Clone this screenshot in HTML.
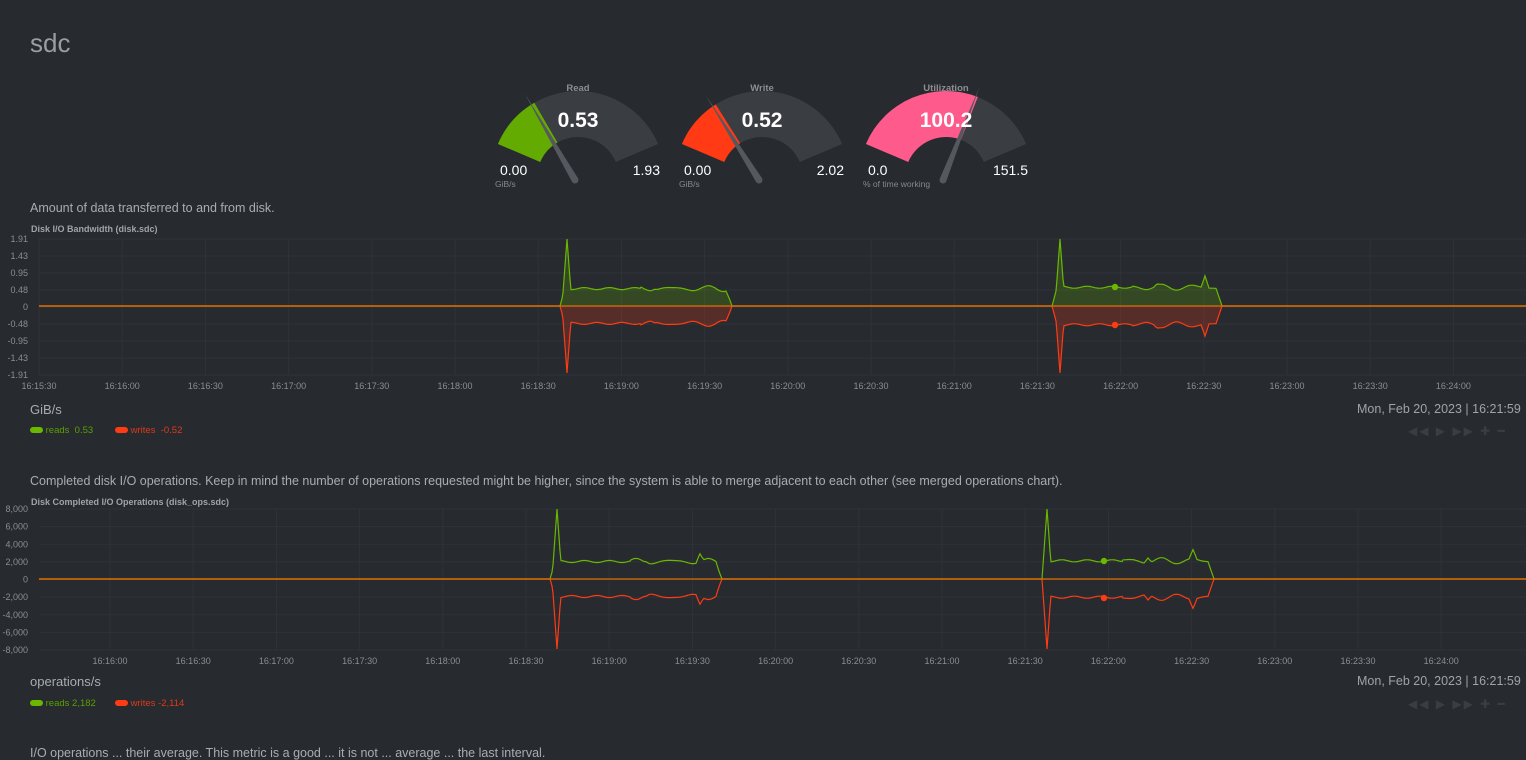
<!DOCTYPE html><html><head><meta charset="utf-8"><style>
body{margin:0;width:1526px;height:751px;background:#272a2f;font-family:"Liberation Sans",sans-serif;overflow:hidden;position:relative;color:#bbb}
.a{position:absolute;white-space:nowrap}
</style></head><body>
<div class="a" style="left:30px;top:28px;font-size:26px;color:#9a9ea3">sdc</div>
<svg id="g" class="a" style="left:0;top:0" width="1526" height="200"></svg>
<div class="a" style="left:30px;top:201px;font-size:12.5px;color:#a9adb2">Amount of data transferred to and from disk.</div>
<div class="a" style="left:31px;top:224px;font-size:9px;font-weight:bold;color:#a0a4a8">Disk I/O Bandwidth (disk.sdc)</div>
<div class="a" style="left:30px;top:402px;font-size:13px;color:#a9adb2">GiB/s</div>
<div class="a" style="left:1357px;top:402px;font-size:12.5px;color:#a0a4a8">Mon, Feb 20, 2023 | 16:21:59</div>
<div class="a" style="left:30px;top:425px;font-size:9.5px;color:#5aa000"><span style="display:inline-block;width:13px;height:6px;border-radius:3px;background:#6ab800;vertical-align:middle"></span> reads&nbsp; 0.53</div>
<div class="a" style="left:115px;top:425px;font-size:9.5px;color:#e03a1a"><span style="display:inline-block;width:13px;height:6px;border-radius:3px;background:#ff3b14;vertical-align:middle"></span> writes&nbsp; -0.52</div>
<div class="a" style="left:1408px;top:424px;font-size:12px;color:#3a3e44;letter-spacing:2px">◀◀ ▶ ▶▶ ✚ ━ &nbsp;&nbsp;&nbsp;&nbsp; ⬍</div>
<div class="a" style="left:30px;top:474px;font-size:12.5px;color:#a9adb2">Completed disk I/O operations. Keep in mind the number of operations requested might be higher, since the system is able to merge adjacent to each other (see merged operations chart).</div>
<div class="a" style="left:31px;top:497px;font-size:9px;font-weight:bold;color:#a0a4a8">Disk Completed I/O Operations (disk_ops.sdc)</div>
<div class="a" style="left:30px;top:674px;font-size:13px;color:#a9adb2">operations/s</div>
<div class="a" style="left:1357px;top:674px;font-size:12.5px;color:#a0a4a8">Mon, Feb 20, 2023 | 16:21:59</div>
<div class="a" style="left:30px;top:698px;font-size:9.5px;color:#5aa000"><span style="display:inline-block;width:13px;height:6px;border-radius:3px;background:#6ab800;vertical-align:middle"></span> reads 2,182</div>
<div class="a" style="left:115px;top:698px;font-size:9.5px;color:#e03a1a"><span style="display:inline-block;width:13px;height:6px;border-radius:3px;background:#ff3b14;vertical-align:middle"></span> writes -2,114</div>
<div class="a" style="left:1408px;top:697px;font-size:12px;color:#3a3e44;letter-spacing:2px">◀◀ ▶ ▶▶ ✚ ━ &nbsp;&nbsp;&nbsp;&nbsp; ⬍</div>
<svg id="c" class="a" style="left:0;top:0" width="1526" height="751"></svg>
<script>
var NS='http://www.w3.org/2000/svg';
function el(p,t,a,txt){var e=document.createElementNS(NS,t);for(var k in a)e.setAttribute(k,a[k]);if(txt!=null)e.textContent=txt;p.appendChild(e);return e}
var g=document.getElementById('g');
function pt(cx,cy,r,d){var t=d*Math.PI/180;return [cx+r*Math.cos(t),cy-r*Math.sin(t)]}
function arc(cx,cy,R,r,a1,a2){var p1=pt(cx,cy,R,a1),p2=pt(cx,cy,R,a2),p3=pt(cx,cy,r,a2),p4=pt(cx,cy,r,a1);var lg=(a1-a2)>180?1:0;
return 'M'+p1+' A'+R+' '+R+' 0 '+lg+' 1 '+p2+' L'+p3+' A'+r+' '+r+' 0 '+lg+' 0 '+p4+'Z'}
function gauge(cx,title,val,frac,col,mn,mx,unit){var cy=178,R=87,r=41;
el(g,'path',{d:arc(cx,cy,R,r,157,23),fill:'#3a3d42'});
var e=157-134*frac;el(g,'path',{d:arc(cx,cy,R,r,157,e),fill:col});
var b=[cx-3,180];var t=e*Math.PI/180;var tip=[b[0]+100*Math.cos(t),b[1]-100*Math.sin(t)];var n=[Math.sin(t)*3.5,Math.cos(t)*3.5];
el(g,'path',{d:'M'+tip+' L'+(b[0]+n[0])+','+(b[1]+n[1])+' L'+(b[0]-n[0])+','+(b[1]-n[1])+'Z',fill:'#55595f'});
el(g,'circle',{cx:b[0],cy:b[1],r:3.5,fill:'#55595f'});
el(g,'text',{x:cx,y:91,'text-anchor':'middle','font-size':9.5,'font-weight':'bold',fill:'#8b8f94'},title);
el(g,'text',{x:cx,y:127,'text-anchor':'middle','font-size':21,'font-weight':'bold',fill:'#fff'},val);
el(g,'text',{x:cx-78,y:175,'font-size':14,fill:'#fff'},mn);
el(g,'text',{x:cx+82,y:175,'text-anchor':'end','font-size':14,fill:'#fff'},mx);
el(g,'text',{x:cx-83,y:187,'font-size':8.5,fill:'#888'},unit);}
gauge(578,'Read','0.53',0.275,'#63ab00','0.00','1.93','GiB/s');
gauge(762,'Write','0.52',0.26,'#ff3a14','0.00','2.02','GiB/s');
gauge(946,'Utilization','100.2',0.66,'#ff5a8c','0.0','151.5','% of time working');
var c=document.getElementById('c');
function chart(o){var x0=o.x0,z=o.z,h=o.h;
o.yt.forEach(function(t,i){var y=o.top+i*(o.bot-o.top)/(o.yt.length-1);el(c,'line',{x1:x0,x2:1526,y1:y,y2:y,stroke:'#2f3338'});el(c,'text',{x:x0-11,y:y+3,'text-anchor':'end','font-size':9,fill:'#8a8e93'},t)});
o.xt.forEach(function(t,i){var x=o.xs+i*83.2;el(c,'line',{x1:x,x2:x,y1:o.top,y2:o.bot,stroke:'#2f3338'});el(c,'text',{x:x,y:o.bot+14,'text-anchor':'middle','font-size':9,fill:'#8a8e93'},t)});
function series(s){var pts=[];for(var x=x0;x<=1526;x+=1){var v=0;o.bursts.forEach(function(b){if(x>=b.s&&x<=b.e){var d=x-b.s;var base=b.lv+0.015*Math.sin(x*0.25)+(x>b.s+80?0.03*Math.sin(x*0.18):0);if(d<5)base*=d/5;
v=Math.max(base,(1-Math.abs(x-b.sp)/5));b.bumps.forEach(function(q){if(Math.abs(x-q[0])<4)v=Math.max(v,q[1]*(1-Math.abs(x-q[0])/4)+base*Math.abs(x-q[0])/4)});if(b.e-x<6)v*=(b.e-x)/6}});pts.push([x,z-s*v*h])}return pts}
[[1,'#6ab800','rgba(106,184,0,0.22)'],[-1,'#ff3b14','rgba(255,59,20,0.22)']].forEach(function(q){var p=series(q[0]);var d='M'+p.map(function(a){return a[0]+','+a[1].toFixed(1)}).join(' L');
if(o.fill)el(c,'path',{d:d+' L1526,'+z+' L'+x0+','+z+'Z',fill:q[2]});el(c,'path',{d:d,fill:'none',stroke:q[1],'stroke-width':1.2})});
el(c,'line',{x1:x0,x2:1526,y1:z,y2:z,stroke:'#e06d00','stroke-width':1.2});
o.dots.forEach(function(d){el(c,'circle',{cx:d[0],cy:d[1],r:3.2,fill:d[2]})});}
chart({x0:39,top:239,bot:375,z:306,h:67,fill:true,xs:39,yt:['1.91','1.43','0.95','0.48','0','-0.48','-0.95','-1.43','-1.91'],
xt:['16:15:30','16:16:00','16:16:30','16:17:00','16:17:30','16:18:00','16:18:30','16:19:00','16:19:30','16:20:00','16:20:30','16:21:00','16:21:30','16:22:00','16:22:30','16:23:00','16:23:30','16:24:00'],
bursts:[{s:560,e:732,sp:567,lv:0.26,bumps:[[655,0.25],[690,0.2],[712,0.28]]},{s:1052,e:1222,sp:1060,lv:0.28,bumps:[[1158,0.33],[1175,0.2],[1205,0.45]]}],
dots:[[1115,287,'#6ab800'],[1115,325,'#ff3b14']]});
chart({x0:39,top:509,bot:650,z:579,h:70,fill:false,xs:110,yt:['8,000','6,000','4,000','2,000','0','-2,000','-4,000','-6,000','-8,000'],
xt:['16:16:00','16:16:30','16:17:00','16:17:30','16:18:00','16:18:30','16:19:00','16:19:30','16:20:00','16:20:30','16:21:00','16:21:30','16:22:00','16:22:30','16:23:00','16:23:30','16:24:00'],
bursts:[{s:550,e:722,sp:557,lv:0.25,bumps:[[645,0.25],[665,0.22],[700,0.36]]},{s:1042,e:1214,sp:1047,lv:0.26,bumps:[[1148,0.3],[1175,0.22],[1193,0.42]]}],
dots:[[1104,561,'#6ab800'],[1104,598,'#ff3b14']]});
</script>
<div class="a" style="left:30px;top:746px;font-size:12.5px;color:#a9adb2">I/O operations ... their average. This metric is a good ... it is not ... average ... the last interval.</div>
</body></html>
